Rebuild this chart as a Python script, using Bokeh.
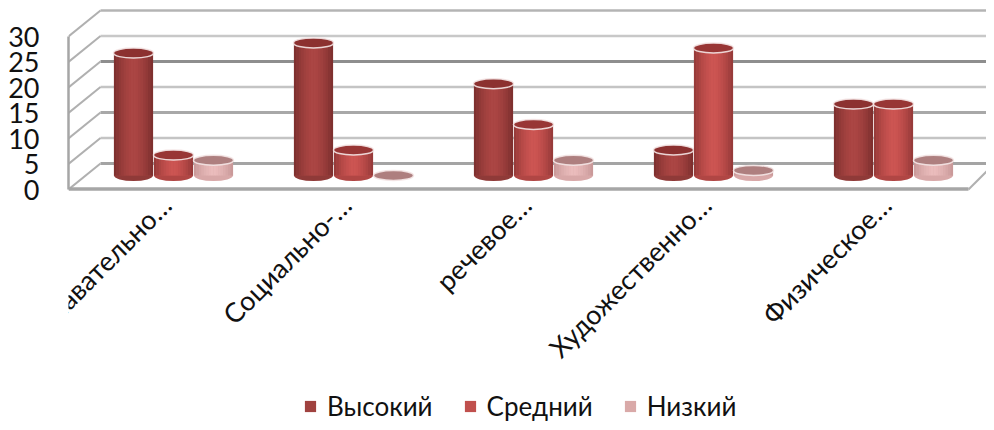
import math
from bokeh.plotting import figure
from bokeh.embed import file_html
from bokeh.resources import INLINE
from bokeh.core.properties import value
from bokeh.models import (Range1d, LinearAxis, FixedTicker, Legend, LegendItem,
                          ColumnDataSource, LabelSet)

categories = ["Познавательно…", "Социально-…", "речевое…", "Художественно…", "Физическое…"]
series_names = ["Высокий", "Средний", "Низкий"]
high = [24, 26, 18, 5, 14]
medium = [4, 5, 10, 25, 14]
low = [3, 0, 3, 1, 3]
y_ticks = [0, 5, 10, 15, 20, 25, 30]

mid_colors = [(172, 70, 68), (205, 85, 82), (234, 188, 188)]
edge_colors = [(122, 46, 45), (146, 56, 55), (198, 150, 150)]
bottom_colors = ["#8f3a38", "#b04644", "#d8a8a8"]
top_colors = ["#8c3130", "#983635", "#ae7f7f"]
legend_colors = ["#a0423f", "#c0504d", "#d9a9a8"]
grid_colors = ["#b4b4b4", "#c8c8c8", "#8e8e8e", "#c4c4c4", "#a8a8a8", "#c4c4c4", "#a4a4a4"][::-1]
grid_widths = [3, 2.5, 3, 2.5, 3, 2.5, 2.5]

PX_PER_CAT = 180.0
PX_PER_VAL = 5.1
BAR_W = 40.0
FRAME_L, FRAME_R, FRAME_T, FRAME_B = 68.0, 986.0, 8.0, 422.0
FRONT_Y = 189.0
BACK_R = 994.0
BASE = 175.0
FIRST = 173.0
BACK_Y0 = 163.0
DEPTH_L = 32.0
FLOOR_R = 968.0
LABEL_DX, LABEL_Y = 0.0, 207.0

x_of = lambda px: (px - FIRST) / PX_PER_CAT
y_of = lambda py: (BASE - py) / PX_PER_VAL
back = y_of(BACK_Y0)

p = figure(frame_width=int(FRAME_R - FRAME_L), frame_height=int(FRAME_B - FRAME_T),
           output_backend="svg", toolbar_location=None,
           x_axis_type=None, y_axis_type=None,
           x_range=Range1d(x_of(FRAME_L), x_of(FRAME_R)),
           y_range=Range1d(y_of(FRAME_B), y_of(FRAME_T)),
           min_border_left=68, min_border_right=0, min_border_top=8, min_border_bottom=0,
           outline_line_color=None, background_fill_color=None, border_fill_color="white")
p.grid.visible = False

p.extra_y_ranges["front"] = Range1d((FRONT_Y - FRAME_B) / PX_PER_VAL, (FRONT_Y - FRAME_T) / PX_PER_VAL)

xl, xr = x_of(FRAME_L + DEPTH_L), x_of(BACK_R)
p.multi_line(xs=[[xl, xr] for _ in y_ticks], ys=[[t + back, t + back] for t in y_ticks],
             line_color=grid_colors, line_width=grid_widths)
front_off = y_of(FRONT_Y)
p.multi_line(xs=[[x_of(FRAME_L), xl] for _ in y_ticks],
             ys=[[t + front_off, t + back] for t in y_ticks],
             line_color="#b0b0b0", line_width=2)
p.line([x_of(FRAME_L), x_of(FLOOR_R)], [front_off + 0.1, front_off + 0.1], line_color="#a6a6a6", line_width=3.5)
p.line([x_of(FLOOR_R), x_of(BACK_R)], [front_off, back], line_color="#b0b0b0", line_width=2)

STRIPS = 16
renderers = []
for s, vals in enumerate([high, medium, low]):
    offset = (s - 1) * BAR_W / PX_PER_CAT
    xs = [i + offset for i in range(len(vals))]
    w = (BAR_W - 1) / PX_PER_CAT
    src = ColumnDataSource(dict(x=xs, top=vals))
    pos = ColumnDataSource(dict(x=[x for x, v in zip(xs, vals) if v > 0]))
    p.ellipse("x", 0, width=BAR_W - 1, height=11, width_units="screen", height_units="screen",
              source=pos, fill_color=bottom_colors[s], line_color=None)
    r = p.vbar("x", width=w, bottom=0, top="top", source=src,
               fill_color=legend_colors[s], line_color=None)
    renderers.append(r)
    sx, st, sw, sc = [], [], [], []
    for x0, v in zip(xs, vals):
        if v == 0:
            continue
        for k in range(STRIPS):
            t = (k + 0.5) / STRIPS * 2 - 1
            f = abs(t) ** 1.6
            col = tuple(int(round(m + (e - m) * f)) for m, e in zip(mid_colors[s], edge_colors[s]))
            sx.append(x0 + t * w / 2)
            st.append(v)
            sw.append(w / STRIPS * 1.08)
            sc.append("#%02x%02x%02x" % col)
    p.vbar(x=sx, width=sw, bottom=[0] * len(sx), top=st, fill_color=sc, line_color=None)
    p.ellipse("x", "top", width=BAR_W, height=10, width_units="screen", height_units="screen",
              source=src, fill_color=top_colors[s], line_color="#f4e6e6", line_width=1.5,
              line_alpha=0.9)

yax = LinearAxis(y_range_name="front", ticker=FixedTicker(ticks=y_ticks), bounds=(0, 30),
                 axis_line_color="#a6a6a6", axis_line_width=2.5,
                 major_tick_line_color=None, minor_tick_line_color=None,
                 major_tick_out=0, major_tick_in=0,
                 major_label_standoff=29, major_label_text_font="Lato",
                 major_label_text_font_size="27px", major_label_text_color="#111111")
p.add_layout(yax, "left")

# category labels, rotated 45 degrees, ending at their group's position;
# a LabelSet is not clipped to the frame, so the long labels may reach left of it
label_src = ColumnDataSource(dict(x=[i + LABEL_DX / PX_PER_CAT for i in range(len(categories))],
                                  y=[y_of(LABEL_Y)] * len(categories), text=categories))
label_kw = dict(x="x", y="y", text="text", source=label_src, angle=math.pi / 4,
                text_align="right", text_baseline="alphabetic",
                text_font_size="27px", text_color="#111111")
try:
    labels = LabelSet(text_font=value("Lato"), **label_kw)
except ValueError:
    labels = LabelSet(text_font="Lato", **label_kw)
p.add_layout(labels)

legend = Legend(items=[LegendItem(label=n, renderers=[r]) for n, r in zip(series_names, renderers)],
                orientation="horizontal", location=(235, 0), padding=0, margin=0,
                spacing=30, glyph_width=14, glyph_height=14, label_standoff=10,
                label_text_font="Lato", label_text_font_size="26px",
                label_text_color="#111111", border_line_color=None, background_fill_color=None)
p.add_layout(legend, "center")

open("out.html", "w").write(file_html(p, INLINE))
